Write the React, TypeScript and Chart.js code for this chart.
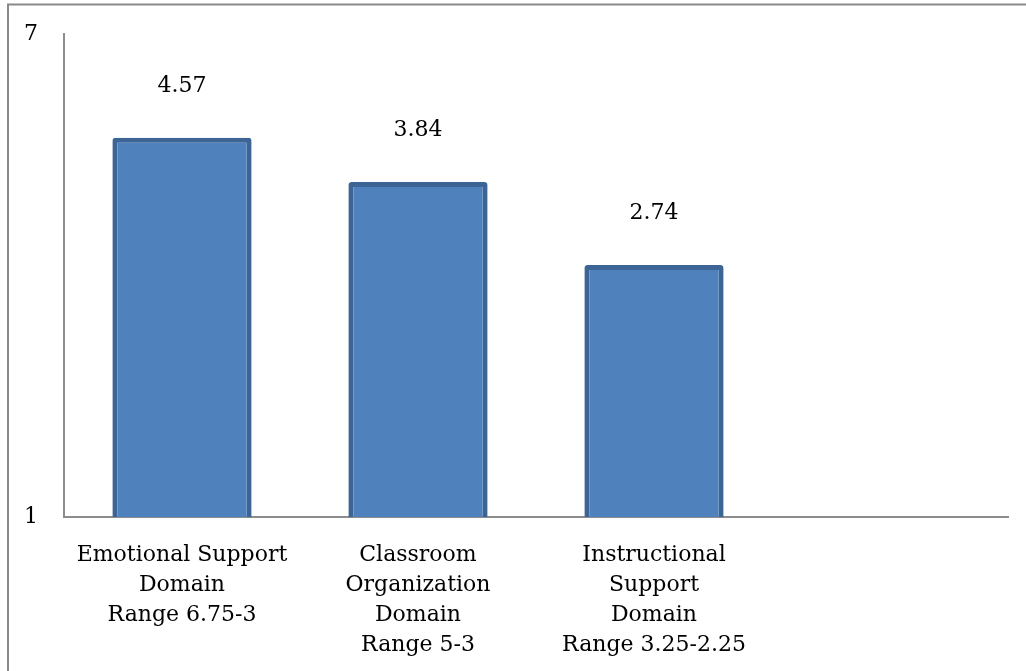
import React, { useEffect, useRef } from "react";
import { Chart, registerables } from "chart.js";

Chart.register(...registerables);

const categories: (string | string[])[] = [
  ["Emotional Support", "Domain", "Range 6.75-3"],
  ["Classroom", "Organization", "Domain", "Range 5-3"],
  ["Instructional", "Support", "Domain", "Range 3.25-2.25"],
  "",
];
// bar heights as drawn in the picture (on the 1–7 axis)
const barValues: (number | null)[] = [5.71, 5.16, 4.13, null];
// data label texts as printed above the bars
const labelTexts: string[] = ["4.57", "3.84", "2.74"];
const yTicks: number[] = [1, 7];

const FONT = "'DejaVu Serif', 'Liberation Serif', serif";

export default function App() {
  const ref = useRef<HTMLCanvasElement | null>(null);

  useEffect(() => {
    const canvas = ref.current;
    if (!canvas) return;

    const framePlugin = {
      id: "frame",
      beforeDraw(chart: any) {
        const ctx = chart.ctx;
        ctx.save();
        ctx.fillStyle = "#ffffff";
        ctx.fillRect(0, 0, chart.width, chart.height);
        ctx.strokeStyle = "#8a8a8a";
        ctx.lineWidth = 2;
        ctx.beginPath();
        ctx.moveTo(8, chart.height + 5);
        ctx.lineTo(8, 4.5);
        ctx.lineTo(chart.width + 5, 4.5);
        ctx.stroke();
        ctx.restore();
      },
    };

    const labelPlugin = {
      id: "valueLabels",
      afterDatasetsDraw(chart: any) {
        const ctx = chart.ctx;
        const meta = chart.getDatasetMeta(0);
        ctx.save();
        ctx.font = `22px ${FONT}`;
        ctx.fillStyle = "#000000";
        ctx.textAlign = "center";
        ctx.textBaseline = "middle";
        meta.data.forEach((bar: any, i: number) => {
          if (labelTexts[i] == null || barValues[i] == null) return;
          ctx.fillText(labelTexts[i], bar.x, bar.y - 52);
        });
        ctx.restore();
      },
    };

    const chart = new Chart(canvas, {
      type: "bar",
      data: {
        labels: categories,
        datasets: [
          {
            data: barValues,
            backgroundColor: "#4f81bd",
            borderColor: "#3c6494",
            borderWidth: 5,
            borderSkipped: false,
            borderRadius: 3,
            categoryPercentage: 1,
            barPercentage: 0.59,
          },
        ],
      },
      options: {
        responsive: false,
        animation: false,
        layout: { padding: { top: 34, right: 18, bottom: 0, left: 0 } },
        plugins: {
          legend: { display: false },
          tooltip: { enabled: false },
        },
        scales: {
          x: {
            grid: { display: false, drawTicks: false },
            border: { display: true, color: "#8c8c8c", width: 2 },
            ticks: {
              color: "#000000",
              font: { family: FONT, size: 22, lineHeight: 1.37 },
              padding: 23,
              maxRotation: 0,
              autoSkip: false,
            },
            afterFit(scale: any) {
              scale.height = 154;
            },
          },
          y: {
            min: 1,
            max: 7,
            grid: { display: false, drawTicks: false },
            border: { display: true, color: "#8c8c8c", width: 2 },
            ticks: {
              color: "#000000",
              font: { family: FONT, size: 22 },
              padding: 26,
            },
            afterBuildTicks(scale: any) {
              scale.ticks = yTicks.map((v) => ({ value: v }));
            },
            afterFit(scale: any) {
              scale.width = 64;
              scale.paddingTop = 0;
              scale.paddingBottom = 0;
            },
          },
        },
      },
      plugins: [framePlugin, labelPlugin],
    });

    return () => chart.destroy();
  }, []);

  return (
    <div style={{ position: "fixed", left: 0, top: 0, width: 1026, height: 671, background: "#fff" }}>
      <canvas ref={ref} width={1026} height={671} style={{ display: "block" }} />
    </div>
  );
}
